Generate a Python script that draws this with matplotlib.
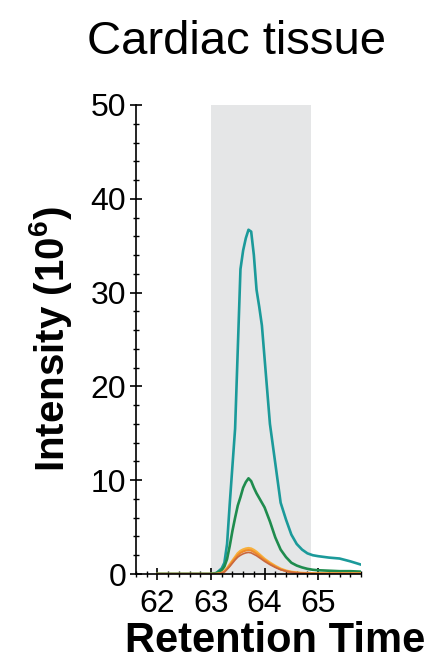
import matplotlib
matplotlib.use("Agg")
import matplotlib.pyplot as plt
from matplotlib.ticker import MultipleLocator

plt.rcParams['font.family'] = ['Liberation Sans', 'DejaVu Sans']
plt.rcParams['mathtext.fontset'] = 'custom'
plt.rcParams['mathtext.rm'] = 'Liberation Sans:bold'
plt.rcParams['mathtext.bf'] = 'Liberation Sans:bold'

# retention time (min) and intensity traces (x10^6)
rt = [62.0, 62.5, 63.0, 63.1, 63.2, 63.25, 63.3, 63.35, 63.4, 63.45, 63.5, 63.55,
      63.6, 63.65, 63.7, 63.75, 63.8, 63.85, 63.9, 63.95, 64.0, 64.1, 64.2, 64.3,
      64.4, 64.5, 64.6, 64.7, 64.8, 64.9, 65.0, 65.2, 65.4, 65.6, 65.8]

teal = [0, 0, 0, 0.1, 0.6, 1.2, 3.2, 7.5, 11.5, 15.5, 24.0, 32.5,
        34.5, 35.8, 36.7, 36.5, 34.0, 30.3, 28.5, 26.5, 23.0, 16.0, 11.8, 7.6,
        5.8, 4.2, 3.2, 2.6, 2.2, 2.0, 1.9, 1.75, 1.65, 1.35, 1.0]

green = [0, 0, 0, 0.1, 0.4, 0.8, 1.6, 3.0, 4.6, 6.0, 7.3, 8.2,
         9.2, 9.8, 10.2, 9.9, 9.2, 8.6, 8.1, 7.6, 7.1, 5.6, 3.9, 2.6,
         1.8, 1.2, 0.9, 0.7, 0.55, 0.45, 0.4, 0.35, 0.3, 0.3, 0.25]

orange_lt = [0, 0, 0, 0, 0.1, 0.3, 0.6, 1.0, 1.4, 1.8, 2.2, 2.45,
             2.6, 2.7, 2.75, 2.7, 2.55, 2.35, 2.1, 1.85, 1.6, 1.2, 0.85, 0.55,
             0.35, 0.22, 0.14, 0.1, 0.08, 0.06, 0.05, 0.05, 0.05, 0.05, 0.05]

orange = [0, 0, 0, 0, 0.1, 0.25, 0.55, 0.9, 1.3, 1.65, 2.0, 2.25,
          2.4, 2.5, 2.55, 2.5, 2.35, 2.15, 1.95, 1.7, 1.5, 1.1, 0.78, 0.5,
          0.32, 0.2, 0.13, 0.09, 0.07, 0.05, 0.04, 0.04, 0.04, 0.04, 0.04]

rust = [0, 0, 0, 0, 0.08, 0.22, 0.5, 0.8, 1.15, 1.5, 1.8, 2.0,
        2.15, 2.25, 2.3, 2.25, 2.1, 1.95, 1.75, 1.55, 1.35, 1.0, 0.7, 0.45,
        0.3, 0.18, 0.12, 0.08, 0.06, 0.04, 0.03, 0.03, 0.03, 0.03, 0.03]

window = (63.0, 64.87)

fig = plt.figure(figsize=(4.34, 6.67), dpi=100)
ax = fig.add_axes([136/434, 93/667, 225/434, 469/667])

ax.axvspan(window[0], window[1], ymin=0, ymax=1, color='#e5e6e7', lw=0, zorder=0)

ax.plot(rt, teal, color='#1b9a9a', lw=1.9)
ax.plot(rt, green, color='#1f8c4e', lw=1.9)
ax.plot(rt, orange_lt, color='#f7b03c', lw=1.9)
ax.plot(rt, orange, color='#ef8a2a', lw=1.5)
ax.plot(rt, rust, color='#c9683e', lw=1.2)

ax.set_xlim(61.6, 65.8)
ax.set_ylim(0, 50)
ax.xaxis.set_major_locator(MultipleLocator(1))
ax.xaxis.set_minor_locator(MultipleLocator(0.2))
ax.yaxis.set_major_locator(MultipleLocator(10))
ax.yaxis.set_minor_locator(MultipleLocator(2))

for s in ['top', 'right']:
    ax.spines[s].set_visible(False)
for s in ['left', 'bottom']:
    ax.spines[s].set_linewidth(1.2)

ax.tick_params(which='major', direction='inout', length=8, width=1.2, labelsize=23)
ax.tick_params(axis='x', which='major', pad=7)
ax.tick_params(axis='y', which='major', pad=3)
ax.tick_params(which='minor', direction='inout', length=5, width=1.0)

ax.set_xlabel('Retention Time', fontsize=30, fontweight='bold', va='baseline')
ax.xaxis.set_label_coords(0.62, -0.166)
ax.set_ylabel('Intensity ($\\mathbf{10^6}$)', fontsize=29, fontweight='bold', labelpad=12)
fig.suptitle('Cardiac tissue', fontsize=34, x=0.545, y=0.97)

fig.savefig('out.png', dpi=100)
